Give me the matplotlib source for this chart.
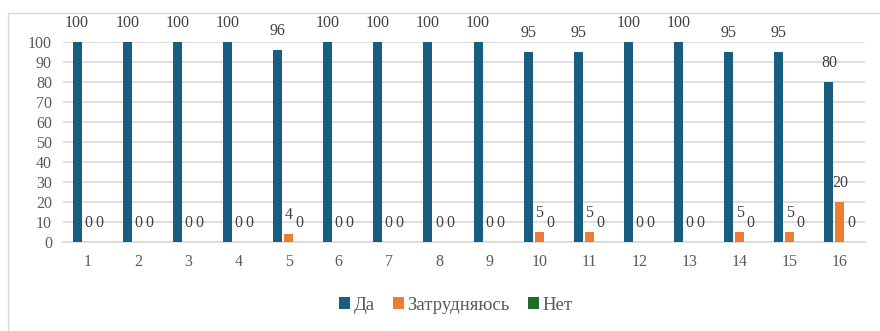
import numpy as np
import matplotlib.pyplot as plt
from matplotlib.patches import Rectangle

plt.rcParams['font.family'] = ['Liberation Serif', 'DejaVu Serif']

categories = [str(i) for i in range(1, 17)]
da = [100, 100, 100, 100, 96, 100, 100, 100, 100, 95, 95, 100, 100, 95, 95, 80]
zatr = [0, 0, 0, 0, 4, 0, 0, 0, 0, 5, 5, 0, 0, 5, 5, 20]
net = [0] * 16

series = [("Да", da, "#175E80"), ("Затрудняюсь", zatr, "#ED7D31"), ("Нет", net, "#1E6B2A")]

fig = plt.figure(figsize=(8.8, 3.31), dpi=100)
fig.patches.append(Rectangle((8 / 880, -0.1), 1.2, 1.1 - 13 / 331, transform=fig.transFigure,
                             fill=False, edgecolor="#D9D9D9", linewidth=1))
ax = fig.add_axes([63 / 880, 1 - 242 / 331, 802 / 880, 200 / 331])

x = np.arange(len(categories))
w = 0.18
step = 0.22
for k, (name, vals, color) in enumerate(series):
    pos = x + (k - 1) * step
    ax.bar(pos, vals, width=w, color=color, label=name, zorder=3)
    for p, v in zip(pos, vals):
        ax.annotate(str(v), (p, v), xytext=(0, 14), textcoords="offset points",
                    ha="center", va="center", fontsize=11.5, color="#404040",
                    annotation_clip=False)

ax.set_xlim(-0.5, len(categories) - 0.5)
ax.set_ylim(0, 100)
ax.set_yticks(range(0, 101, 10))
ax.set_xticks(x)
ax.set_xticklabels(categories)
ax.grid(axis="y", color="#D9D9D9", linewidth=1.2, zorder=0)
for s in ["top", "left", "right"]:
    ax.spines[s].set_visible(False)
ax.spines["bottom"].set_color("#D9D9D9")
ax.spines["bottom"].set_linewidth(1.2)
ax.tick_params(length=0, labelsize=11.5, labelcolor="#595959")
ax.tick_params(axis="x", pad=9)
ax.tick_params(axis="y", pad=8)

ax.legend(loc="center", bbox_to_anchor=(0.49, -0.315), ncol=3, frameon=False,
          fontsize=13.5, handlelength=0.55, handleheight=0.55, handletextpad=0.2,
          columnspacing=1.0, labelcolor="#595959")

fig.savefig("out.png", dpi=100)
